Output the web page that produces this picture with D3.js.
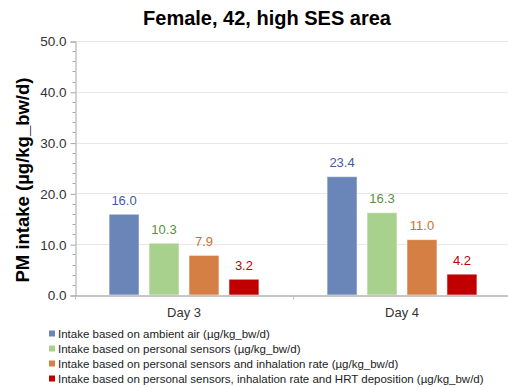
<!DOCTYPE html>
<html>
<head>
<meta charset="utf-8">
<script src="https://cdn.jsdelivr.net/npm/d3@7"></script>
<style>
  html, body { margin: 0; padding: 0; background: #fff; }
  svg { display: block; font-family: "Liberation Sans", Arial, sans-serif; }
</style>
</head>
<body>
<svg id="chart" width="508" height="388"></svg>
<script>
// Daily PM intake per measurement day, four estimation methods
const categories = ["Day 3", "Day 4"];
const seriesNames = [
  "Intake based on ambient air (µg/kg_bw/d)",
  "Intake based on personal sensors (µg/kg_bw/d)",
  "Intake based on personal sensors and inhalation rate (µg/kg_bw/d)",
  "Intake based on personal sensors, inhalation rate and HRT deposition (µg/kg_bw/d)"
];
const ambientAir = [16.0, 23.4];
const personalSensors = [10.3, 16.3];
const sensorsInhalation = [7.9, 11.0];
const sensorsInhalationHRT = [3.2, 4.2];
const yTicks = [0, 10, 20, 30, 40, 50];

const seriesValues = [ambientAir, personalSensors, sensorsInhalation, sensorsInhalationHRT];
const barColors = ["#6a86b8", "#a9d18e", "#d57f45", "#c00000"];
const labelColors = ["#3d5c9c", "#5b8f3c", "#cf6f2c", "#c00000"];

const svg = d3.select("#chart");
const margin = { left: 75, right: -3, top: 41, bottom: 93 };
const W = 508, H = 388;
const x0 = margin.left, x1 = W - margin.right;
const yTop = margin.top, yBot = H - margin.bottom;

const x = d3.scaleBand().domain(categories).range([x0, x1]).paddingInner(0).paddingOuter(0);
const xs = d3.scaleBand().domain(d3.range(seriesNames.length))
  .range([0, x.bandwidth()]).paddingInner(0.225).paddingOuter(0.84);
const y = d3.scaleLinear().domain([0, 50]).range([yBot, yTop]);

// gridlines
svg.append("g")
  .selectAll("line").data(yTicks.slice(1)).join("line")
  .attr("x1", x0).attr("x2", x1)
  .attr("y1", d => Math.round(y(d)) + 0.5).attr("y2", d => Math.round(y(d)) + 0.5)
  .attr("stroke", "#e8e8e8").attr("stroke-width", 1);

// y axis with major and minor ticks
const yAxis = d3.axisLeft(y).tickValues(yTicks).tickFormat(d3.format(".1f")).tickSize(5).tickPadding(4);
const gy = svg.append("g").attr("transform", `translate(${x0 + 0.5},0.5)`).call(yAxis);
gy.select(".domain").attr("stroke", "#a6a6a6");
gy.selectAll(".tick line").attr("stroke", "#a6a6a6");
gy.selectAll(".tick text").attr("fill", "#333").style("font-size", "13.5px")
  .style("font-family", "'Liberation Sans', Arial, sans-serif");
const minor = d3.range(0, 50.01, 2).filter(v => v % 10 !== 0);
gy.append("g").selectAll("line").data(minor).join("line")
  .attr("x1", -3).attr("x2", 0)
  .attr("y1", d => Math.round(y(d))).attr("y2", d => Math.round(y(d)))
  .attr("stroke", "#a6a6a6");

// bars
const groups = svg.append("g").selectAll("g").data(categories).join("g")
  .attr("transform", d => `translate(${x(d)},0)`);
groups.each(function(cat, ci) {
  const g = d3.select(this);
  seriesValues.forEach((vals, si) => {
    const v = vals[ci];
    g.append("rect")
      .attr("x", xs(si) + 0.5).attr("width", xs.bandwidth() - 1)
      .attr("y", y(v) + 0.5).attr("height", y(0) - y(v) - 0.5)
      .attr("fill", barColors[si])
      .attr("stroke", "rgba(255,255,255,0.55)").attr("stroke-width", 1);
    g.append("text")
      .attr("x", xs(si) + xs.bandwidth() / 2).attr("y", y(v) - 9)
      .attr("text-anchor", "middle").attr("fill", labelColors[si])
      .style("font-size", "13px")
      .text(d3.format(".1f")(v));
  });
});

// x axis
const xAxis = d3.axisBottom(x).tickSize(0).tickPadding(12);
const gx = svg.append("g").attr("transform", `translate(0,${yBot + 0.5})`).call(xAxis);
gx.select(".domain").attr("stroke", "#8c8c8c");
gx.selectAll(".tick text").attr("fill", "#333").style("font-size", "13px")
  .style("font-family", "'Liberation Sans', Arial, sans-serif");
// category boundary ticks below the axis line
gx.append("g").selectAll("line").data(categories).join("line")
  .attr("x1", d => Math.round(x(d)) + 0.5).attr("x2", d => Math.round(x(d)) + 0.5)
  .attr("y1", 0).attr("y2", 4).attr("stroke", "#c0c0c0");

// title
svg.append("text").attr("x", 267).attr("y", 25).attr("text-anchor", "middle")
  .style("font-size", "20px").style("font-weight", "bold").attr("fill", "#000")
  .text("Female, 42, high SES area");

// y axis title
svg.append("text").attr("transform", "translate(29,180) rotate(-90)")
  .attr("text-anchor", "middle")
  .style("font-size", "18.5px").style("font-weight", "bold").attr("fill", "#000")
  .text("PM intake (µg/kg_bw/d)");

// legend
const legend = svg.append("g").selectAll("g").data(seriesNames).join("g")
  .attr("transform", (d, i) => `translate(49,${334 + i * 15})`);
legend.append("rect").attr("x", 0).attr("y", -3.5).attr("width", 6).attr("height", 6)
  .attr("fill", (d, i) => barColors[i]);
legend.append("text").attr("x", 9).attr("y", 0).attr("dy", "0.35em")
  .style("font-size", "11.5px").attr("fill", "#222").text(d => d);
</script>
</body>
</html>
